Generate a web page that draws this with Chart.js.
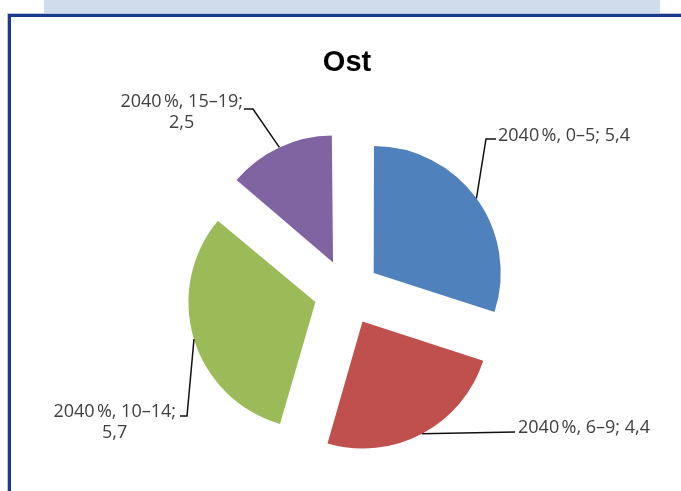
<!DOCTYPE html>
<html>
<head>
<meta charset="utf-8">
<script src="https://cdn.jsdelivr.net/npm/chart.js@4"></script>
<style>
  html, body { margin: 0; padding: 0; background: #fff; }
  #band { position: absolute; left: 44px; top: 0; width: 616px; height: 14px; background: #cfdcec; }
  #frame { position: absolute; left: 8px; top: 14px; width: 700px; height: 500px;
           border-top: 3px solid #1a3b8c; border-left: 3px solid #1a3b8c; box-shadow: -1px -1px 0 #b9c3e0; }
  #chart { position: absolute; left: 0; top: 0; }
</style>
</head>
<body>
<div id="band"></div>
<div id="frame"></div>
<canvas id="chart" width="681" height="491"></canvas>
<script>
// data
const title = 'Ost';
const categories = ['0–5', '6–9', '10–14', '15–19'];
const values = [5.4, 4.4, 5.7, 2.5];
const seriesName = '2040\u202f%';
const colors = ['#4f81bd', '#c0504d', '#9bbb59', '#8064a2'];

const pieRadius = 127;

// label layout (leader elbow and text anchor, per slice)
const labelLayout = [
  { elbow: [486, 139], end: [496, 139], text: [498, 136], align: 'left', lines: 1 },
  { elbow: null, end: [515, 432], text: [518, 428], align: 'left', lines: 1 },
  { elbow: [187, 416], end: [180, 416], text: [176, 412], align: 'right', lines: 2 },
  { elbow: [253, 109], end: [244, 109], text: [243, 102], align: 'right', lines: 2 }
];

function fmt(v) {
  return v.toString().replace('.', ',');
}

// chart.js grows exploded slices a bit, keep every slice at the same radius
const keepRadius = {
  id: 'keepRadius',
  beforeDatasetsDraw(chart) {
    chart.getDatasetMeta(0).data.forEach(arc => {
      const off = (arc.options.offset || 0) / 4;
      const circ = arc.endAngle - arc.startAngle;
      const fix = 1 - Math.sin(Math.min(Math.PI, circ));
      arc.outerRadius = pieRadius - off * fix;
    });
  }
};

const pieLabels = {
  id: 'pieLabels',
  afterDatasetsDraw(chart) {
    const ctx = chart.ctx;
    const meta = chart.getDatasetMeta(0);
    ctx.save();
    ctx.font = '18px "Open Sans"';
    ctx.fillStyle = '#404040';
    ctx.strokeStyle = '#111';
    ctx.lineWidth = 1.5;
    meta.data.forEach((arc, i) => {
      const lay = labelLayout[i];
      const off = (arc.options.offset || 0) / 4;
      const mid = (arc.startAngle + arc.endAngle) / 2;
      const cx = arc.x + Math.cos(mid) * off;
      const cy = arc.y + Math.sin(mid) * off;
      const ax = cx + Math.cos(mid) * pieRadius;
      const ay = cy + Math.sin(mid) * pieRadius;
      ctx.beginPath();
      ctx.moveTo(ax, ay);
      if (lay.elbow) ctx.lineTo(lay.elbow[0], lay.elbow[1]);
      ctx.lineTo(lay.end[0], lay.end[1]);
      ctx.stroke();

      const full = seriesName + ', ' + categories[i] + '; ' + fmt(values[i]);
      ctx.textBaseline = 'middle';
      if (lay.lines === 1) {
        ctx.textAlign = lay.align;
        ctx.fillText(full, lay.text[0], lay.text[1]);
      } else {
        const l1 = seriesName + ', ' + categories[i] + ';';
        const l2 = fmt(values[i]);
        const w = ctx.measureText(l1).width;
        const center = lay.text[0] - w / 2;
        ctx.textAlign = 'center';
        ctx.fillText(l1, center, lay.text[1]);
        ctx.fillText(l2, center, lay.text[1] + 21);
      }
    });
    ctx.restore();
  }
};

new Chart(document.getElementById('chart'), {
  type: 'pie',
  data: {
    labels: categories,
    datasets: [{
      label: seriesName,
      data: values,
      backgroundColor: colors,
      borderWidth: 0,
      offset: 132
    }]
  },
  options: {
    responsive: false,
    animation: false,
    radius: pieRadius,
    layout: { padding: { left: 13, right: 0, top: 0, bottom: 0 } },
    plugins: {
      legend: { display: false },
      tooltip: { enabled: false },
      title: {
        display: true,
        text: title,
        color: '#000',
        font: { family: 'Liberation Sans', size: 29, weight: 'bold' },
        padding: { top: 46, bottom: 13 }
      }
    }
  },
  plugins: [keepRadius, pieLabels]
});
</script>
</body>
</html>
